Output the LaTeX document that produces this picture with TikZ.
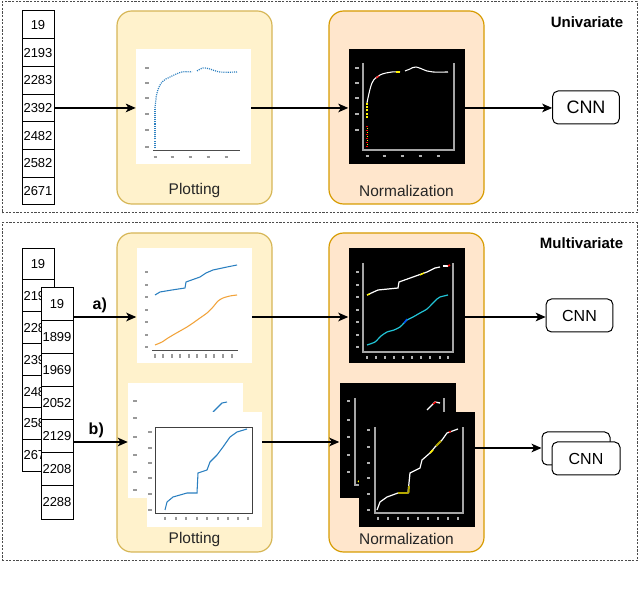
\documentclass[tikz,border=0pt]{standalone}
\usepackage{fontspec}
\setmainfont{Liberation Sans}
\usetikzlibrary{arrows.meta}
\definecolor{plotfill}{HTML}{FFF2CC}
\definecolor{plotdraw}{HTML}{D6B656}
\definecolor{normfill}{HTML}{FFE6CC}
\definecolor{normdraw}{HTML}{D79B00}
\definecolor{mplblue}{HTML}{2A7FC0}
\definecolor{mplorange}{HTML}{F2A33A}
\definecolor{cyanline}{HTML}{22C4D6}
\definecolor{olive}{HTML}{B5A800}
\begin{document}
\begin{tikzpicture}[x=0.75pt,y=-0.75pt,
  outer/.style={draw=black!70, line width=0.75pt, dash pattern=on 1.6pt off 1.1pt, minimum width=476.25pt, inner sep=0pt},
  cell/.style={draw, fill=white, line width=0.75pt, minimum width=24pt, inner sep=0pt, font=\fontsize{9.75}{10}\selectfont},
  stagebox/.style={rounded corners=11pt, line width=0.9pt, minimum width=116.25pt, inner sep=0pt},
  whiteimg/.style={fill=white, minimum width=86.25pt, minimum height=86.25pt, inner sep=0pt},
  blackimg/.style={fill=black, minimum width=87pt, minimum height=86.25pt, inner sep=0pt},
  cnn/.style={draw, fill=white, rounded corners=4pt, line width=0.75pt, minimum width=50pt, minimum height=24.75pt, inner sep=0pt, font=\fontsize{12}{12}\selectfont},
  steplabel/.style={font=\fontsize{11.6}{12}\selectfont, text=black!85},
  title/.style={font=\bfseries\fontsize{11.25}{12}\selectfont, anchor=east},
  arr/.style={-{Stealth[length=7.5pt,width=6.5pt,inset=2pt]}, line width=0.9pt},
  tl/.style={line width=1.1pt, black!40},
  tlw/.style={line width=1.1pt, white!70!black},
  axw/.style={line width=0.5pt, black!70},
  axb/.style={line width=1pt, white!65!black}
]
\useasboundingbox (0,0) rectangle (640,595);

% outer dashed frames
\node[outer, minimum height=158.25pt] (uframe) at (319.5,107.5) {};
\node[outer, minimum height=253.5pt] (mframe) at (319.5,392) {};
\node[title] (ttl1) at (628,22) {Univariate};
\node[title] (ttl2) at (628,243) {Multivariate};

% ================= UNIVARIATE =================
\foreach \v [count=\i] in {19,2193,2283,2392,2482,2582,2671}
  \node[cell, minimum height=20.8pt] (u\i) at (38,{11+27.7*(\i-0.5)}) {\v};

\node[stagebox, fill=plotfill, draw=plotdraw, minimum height=144.75pt] (ps1) at (194.5,107.5) {};
\node[stagebox, fill=normfill, draw=normdraw, minimum height=144.75pt] (ns1) at (406.5,107.5) {};
\node[steplabel] (pl1) at (194.5,191) {Plotting};
\node[steplabel] (nl1) at (406.5,191) {Normalization};

\node[whiteimg] (i1) at (193.5,106.5) {};
\node[blackimg] (n1) at (406.5,106.5) {};

% univariate white plot
\draw[axw] (153,150) -- (240,150);
\foreach \x in {155,172,190,208,226} \draw[tl] (\x-1.5,157) -- (\x+1.5,157);
\foreach \y in {68,83,98,114,130,147} \draw[tl] (145,\y) -- (149,\y);
\draw[mplblue, line width=0.9pt, dash pattern=on 0.8pt off 0.8pt] (155,148) -- (155,108);
\draw[mplblue, line width=0.9pt, dash pattern=on 0.8pt off 0.8pt] plot[smooth, tension=0.6] coordinates {(155,108) (157,93) (162,82) (170,77) (182,72) (192,72)};
\draw[mplblue, line width=0.9pt, dash pattern=on 0.8pt off 0.8pt] plot[smooth, tension=0.6] coordinates {(197,71) (203,68) (210,69) (220,72) (237,72)};

% univariate black plot
\draw[axb] (363,63) -- (363,150) -- (454,150) -- (454,63);
\foreach \x in {367,384,402,420,438} \draw[tlw] (\x-1.5,156) -- (\x+1.5,156);
\foreach \y in {68,83,98,114,130} \draw[tlw] (355,\y) -- (359,\y);
\draw[white, line width=0.8pt] plot[smooth, tension=0.6] coordinates {(367,103) (372,83) (380,75) (392,72) (400,72)};
\draw[white, line width=0.8pt] plot[smooth, tension=0.6] coordinates {(405,71) (410,69) (416,67) (427,71) (433,72) (448,72)};
\draw[yellow, line width=0.9pt, dash pattern=on 1.5pt off 1pt] (367,118) -- (367,103);
\draw[red, line width=1pt, dash pattern=on 1pt off 2pt] (367,147) -- (367,124);
\draw[yellow, line width=1pt, dash pattern=on 1pt off 2pt] (367.5,145) -- (367.5,126);
\draw[yellow, line width=1pt] (396,72) -- (400,72);
\draw[red!80, line width=1pt] (376,78) -- (379,76);

\node[cnn, font=\fontsize{13.5}{13}\selectfont] (c1) at (586,107.5) {CNN};

\draw[arr] (u4.east) -- (u4.east -| i1.west);
\draw[arr] (i1.east |- u4.east) -- (n1.west |- u4.east);
\draw[arr] (n1.east |- u4.east) -- (c1.west |- u4.east);

% ================= MULTIVARIATE =================
\foreach \v [count=\i] in {19,2193,2283,2392,2482,2582,2671}
  \node[cell, minimum height=23.9pt] (b\i) at (38,{248+31.9*(\i-0.5)}) {\v};
\foreach \v [count=\i] in {19,1899,1969,2052,2129,2208,2288}
  \node[cell, minimum height=24.85pt] (f\i) at (57,{287+33.15*(\i-0.5)}) {\v};

\node[stagebox, fill=plotfill, draw=plotdraw, minimum height=239.25pt] (ps2) at (194.5,392.5) {};
\node[stagebox, fill=normfill, draw=normdraw, minimum height=239.25pt] (ns2) at (406.5,392.5) {};
\node[steplabel] (pl2) at (194.5,540) {Plotting};
\node[steplabel] (nl2) at (406.5,539) {Normalization};

% plot a
\node[whiteimg] (pa) at (194,305.5) {};
\draw[axw] (152,350) -- (238,350);
\foreach \x in {155,163,172,180,189,197,206,214,223,232} \draw[tl] (\x,354) -- (\x,358);
\foreach \y in {272,285,297,310,322,335,347} \draw[tl] (145,\y) -- (148,\y);
\draw[mplblue, line width=0.8pt] (155,295) -- (160,292) -- (172,290) -- (185,288) -- (186,282) -- (200,277) -- (206,273) -- (213,270) -- (227,267) -- (237,265);
\draw[mplorange, line width=0.8pt] plot[smooth, tension=0.4] coordinates {(155,345) (162,342) (168,338) (173,335) (180,331) (187,327) (193,323) (200,318) (207,313) (213,307) (218,301) (223,298) (230,296) (237,295)};

% plot b (two stacked)
\node[whiteimg] (pbb) at (185.5,440.5) {};
\foreach \y in {401,418,437,455,472,490} \draw[tl] (133,\y) -- (137,\y);
\draw[mplblue, line width=0.8pt] (213,412) -- (218,407) -- (222,403) -- (227,402);
\node[whiteimg] (pbf) at (204.5,470) {};
\draw[line width=0.5pt, black!75] (155,427) rectangle (252,513);
\foreach \y in {432,448,463,478,494,510} \draw[tl] (148,\y) -- (152,\y);
\foreach \x in {165,176,186,197,207,218,228,238,248} \draw[tl] (\x,517) -- (\x,520);
\draw[mplblue, line width=0.8pt] (165,510) -- (167,502) -- (173,497) -- (187,493) -- (197,493) -- (198,473) -- (207,470) -- (210,462) -- (217,455) -- (223,447) -- (230,437) -- (237,432) -- (247,429);

% norm a
\node[blackimg] (na) at (406.5,305.5) {};
\draw[axb] (363,263) -- (363,352) -- (453,352) -- (453,263);
\foreach \x in {367,376,385,394,403,412,421,430,440,448} \draw[tlw] (\x,356) -- (\x,359);
\foreach \y in {272,285,297,310,322,335,347} \draw[tlw] (356,\y) -- (359,\y);
\draw[white, line width=0.9pt] (367,295) -- (378,290) -- (398,288) -- (399,282) -- (413,277) -- (427,272) -- (435,268) -- (440,267);
\draw[white, line width=0.9pt] (443,266) -- (448,266);
\draw[red, line width=1.2pt] (448,266) -- (450,265);
\draw[yellow, line width=1pt] (367,295) -- (370,294);
\draw[yellow, line width=1pt] (420,275) -- (424,273);
\draw[cyanline, line width=0.9pt] plot[smooth, tension=0.4] coordinates {(367,345) (375,342) (381,336) (387,332) (394,330) (400,327) (404,323) (407,320) (413,317) (420,313) (427,309) (433,303) (437,299) (440,297) (448,295)};
\draw[blue!70!cyan, line width=1pt] (404,323) -- (407,319);

% norm b (two stacked)
\node[blackimg] (nbb) at (397.5,440.5) {};
\draw[axb] (355,398) -- (355,485) -- (444,485);
\draw[axb] (444,398) -- (444,413);
\foreach \y in {401,420,437,455,472} \draw[tlw] (347,\y) -- (350,\y);
\draw[white, line width=1pt] (427,410) -- (432,405) -- (435,402) -- (440,403);
\draw[red, line width=1pt] (433,404) -- (436,402);
\draw[yellow, line width=1pt] (358,482) -- (360,480);
\node[blackimg] (nbf) at (417,469.5) {};
\draw[axb] (375,427) -- (375,513) -- (463,513) -- (463,427);
\foreach \y in {430,447,463,478,494,510} \draw[tlw] (367,\y) -- (370,\y);
\foreach \x in {378,388,398,408,418,428,438,448,458} \draw[tlw] (\x,517) -- (\x,520);
\draw[white, line width=0.9pt] (377,510) -- (380,502) -- (387,497) -- (398,493) -- (408,493) -- (410,473) -- (420,468) -- (422,460) -- (430,453) -- (435,447) -- (442,440) -- (447,433) -- (458,429);
\draw[olive, line width=1.6pt] (398,493) -- (408,493);
\draw[olive, line width=1.4pt] (408.5,493) -- (409,486);
\draw[yellow, line width=1.2pt] (430,453) -- (433,450);
\draw[olive, line width=1.4pt] (436,446) -- (441,441);
\draw[red, line width=1pt] (449,432) -- (451,431.5);

% CNNs
\node[cnn] (ca) at (579.5,315.5) {CNN};
\node[cnn, minimum width=51pt] (cbb) at (576,448.5) {};
\node[cnn, minimum width=51pt] (cbf) at (586,458.5) {CNN};

% connectors
\coordinate (aS) at (f1.east |- 0,317);
\coordinate (bS) at (f5.east |- 0,442);
\draw[arr] (aS) -- (aS -| pa.west) node[pos=0.42, above=-1pt, font=\bfseries\fontsize{12}{12}\selectfont] (lba) {a)};
\draw[arr] (bS) -- (bS -| pbb.west) node[pos=0.42, above=-1pt, font=\bfseries\fontsize{12}{12}\selectfont] (lbb) {b)};
\draw[arr] (pa.east |- aS) -- (na.west |- aS);
\draw[arr] (na.east |- aS) -- (ca.west |- aS);
\coordinate (b2) at (pbf.east |- 0,442);
\draw[arr] (b2) -- (b2 -| nbb.west);
\coordinate (b3) at (nbf.east |- 0,448);
\draw[arr] (b3) -- (b3 -| cbb.west);
\end{tikzpicture}
\end{document}
